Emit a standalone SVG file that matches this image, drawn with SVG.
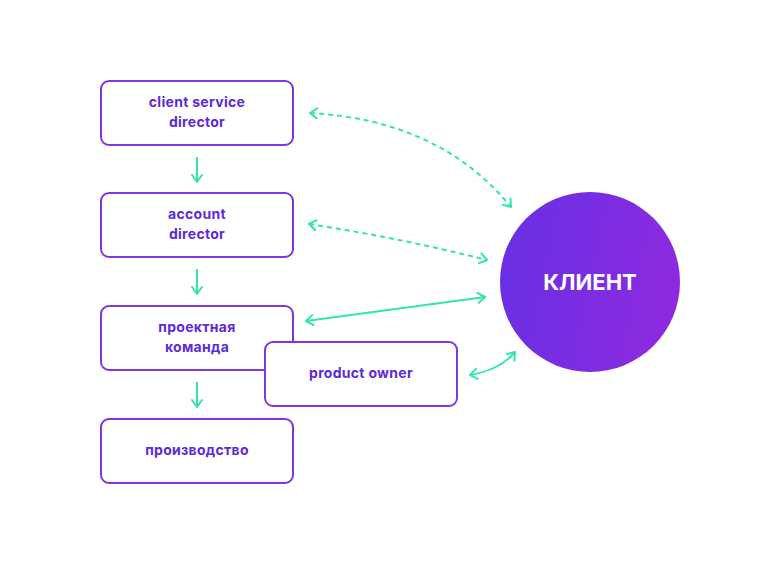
<svg xmlns="http://www.w3.org/2000/svg" width="780" height="563" viewBox="0 0 780 563">
<defs>
<linearGradient id="cg" x1="0" y1="0.4" x2="1" y2="0.6">
<stop offset="0" stop-color="#6a2fe3"/>
<stop offset="1" stop-color="#8e2ae0"/>
</linearGradient>
<marker id="ah" viewBox="0 0 12 12" refX="10" refY="6" markerWidth="12" markerHeight="12" markerUnits="userSpaceOnUse" orient="auto-start-reverse">
<path d="M3,1 L10,6 L3,11" fill="none" stroke="#33e3b5" stroke-width="2" stroke-linecap="round" stroke-linejoin="round"/>
</marker>
</defs>
<style>
.box{fill:#fff;stroke:#8034e4;stroke-width:2}
.t{font-family:Inter,"Noto Sans",sans-serif;font-weight:700;font-size:14px;fill:#5d2ad8;text-anchor:middle;letter-spacing:0.3px}
.c{fill:none;stroke:#33e3b5;stroke-width:2}
.d{stroke-dasharray:5 4}
</style>
<rect width="780" height="563" fill="#fff"/>
<g id="connectors">
<path class="c" d="M197,157 L197,182" marker-end="url(#ah)"/>
<path class="c" d="M197,269 L197,294" marker-end="url(#ah)"/>
<path class="c" d="M197,382 L197,407" marker-end="url(#ah)"/>
<path class="c d" d="M310,113 Q440,120 511,207" marker-start="url(#ah)" marker-end="url(#ah)"/>
<path class="c d" d="M309,224 Q400,238 487,260" marker-start="url(#ah)" marker-end="url(#ah)"/>
<path class="c" d="M306,321 L485,297" marker-start="url(#ah)" marker-end="url(#ah)"/>
<path class="c" d="M470,375 Q500,370 515,352" marker-start="url(#ah)" marker-end="url(#ah)"/>
</g>
<g id="n1"><rect class="box" x="101" y="81" width="192" height="64" rx="8"/><text class="t" x="197" y="107">client service</text><text class="t" x="197" y="127">director</text></g>
<g id="n2"><rect class="box" x="101" y="193" width="192" height="64" rx="8"/><text class="t" x="197" y="219">account</text><text class="t" x="197" y="239">director</text></g>
<g id="n3"><rect class="box" x="101" y="306" width="192" height="64" rx="8"/><text class="t" x="197" y="332">проектная</text><text class="t" x="197" y="352">команда</text></g>
<g id="n5"><rect class="box" x="265" y="342" width="192" height="64" rx="8"/><text class="t" x="361" y="378">product owner</text></g>
<g id="n4"><rect class="box" x="101" y="419" width="192" height="64" rx="8"/><text class="t" x="197" y="455">производство</text></g>
<g id="client"><circle cx="590" cy="282" r="90" fill="url(#cg)"/><text x="590" y="290" font-family="Inter,'Noto Sans',sans-serif" font-weight="700" font-size="22" fill="#fff" text-anchor="middle">КЛИЕНТ</text></g>
</svg>
